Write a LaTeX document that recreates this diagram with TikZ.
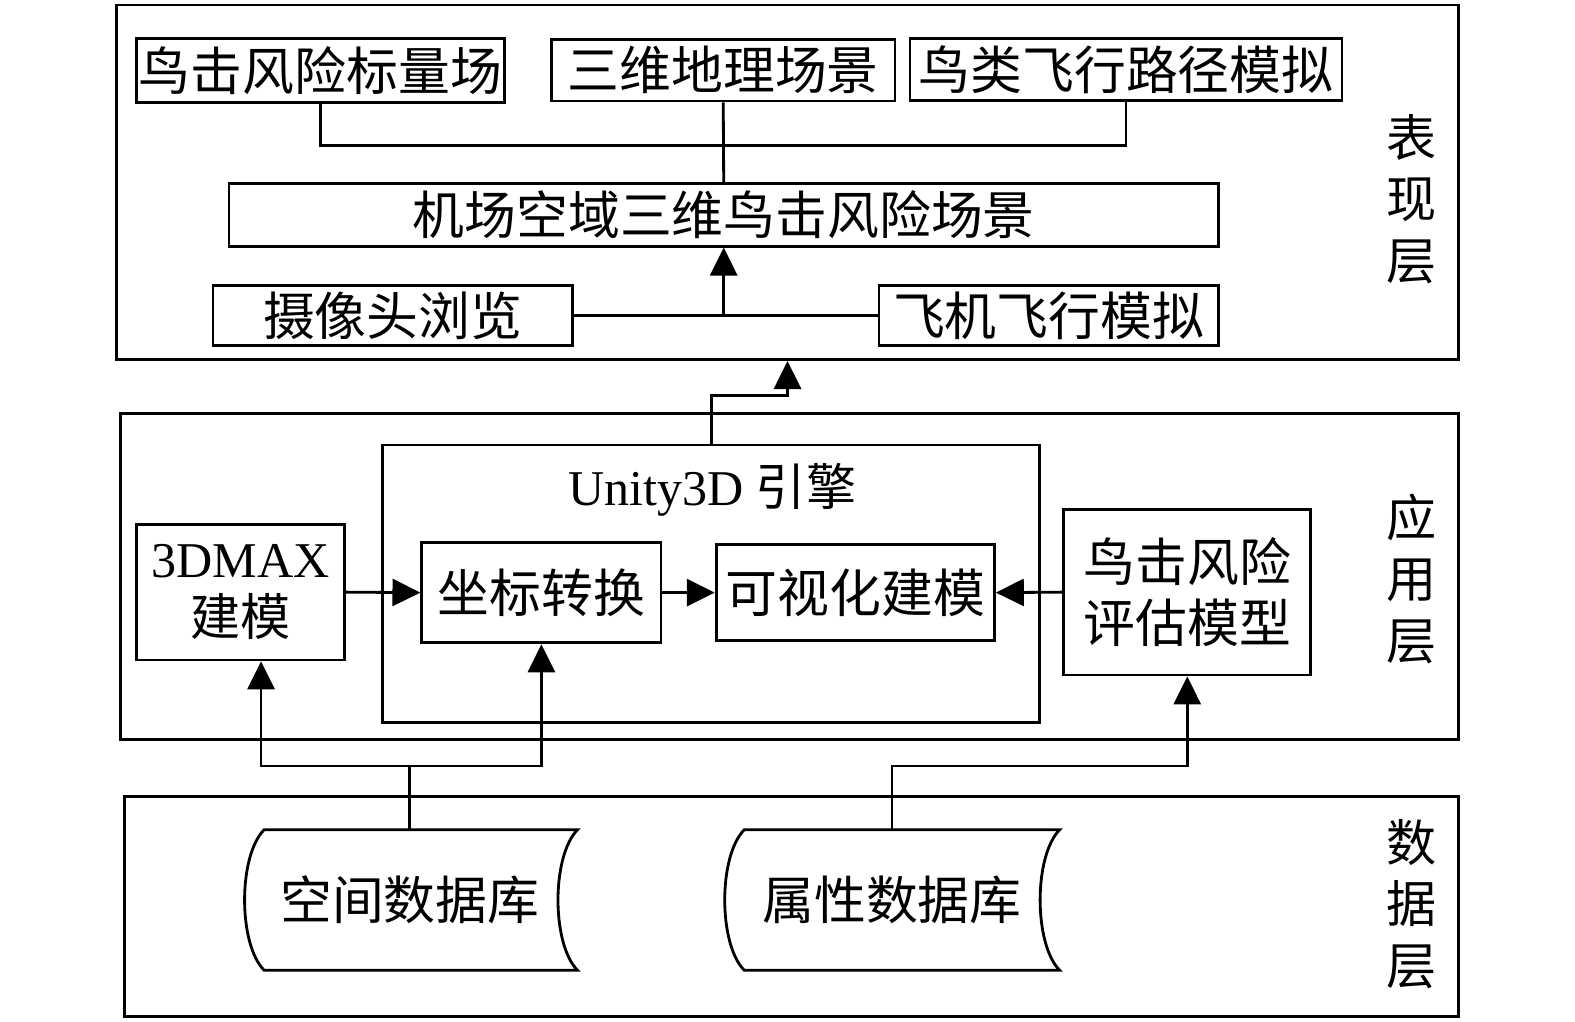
\documentclass[tikz,border=0pt]{standalone}
\usepackage{fontspec}
\setmainfont{Liberation Serif}
\newfontfamily\cjk{Noto Sans CJK SC}
\usetikzlibrary{arrows.meta}

\tikzset{
  box/.style={shape=rectangle,draw=black,align=center,line width=1.6pt,inner sep=0pt},
  layer/.style={shape=rectangle,draw=black,line width=1.6pt,inner sep=0pt},
  arrow/.style={-{Triangle[length=5.6mm,width=5.4mm]},draw=black,line width=1.6pt},
  link/.style={draw=black,line width=1.6pt},
  cn/.style={font=\fontsize{29.5}{35}\cjk},
}

\begin{document}
\begin{tikzpicture}[x=0.2009mm,y=-0.2009mm,font=\fontsize{28.5}{35}\selectfont]
\useasboundingbox (0,0) rectangle (1568,1017);
% layers
\node[layer,minimum width=1336*0.2009mm,minimum height=353*0.2009mm] (L1) at (784,181.5) {};
\node[layer,minimum width=1332*0.2009mm,minimum height=324*0.2009mm] (L2) at (786,574) {};
\node[layer,minimum width=1328*0.2009mm,minimum height=219*0.2009mm] (L3) at (788,902.5) {};
\node[align=center,font=\fontsize{28.5}{35}\cjk] (T1) at (1405,198) {表\\现\\层};
\node[align=center,font=\fontsize{28.5}{35}\cjk] (T2) at (1405,576) {应\\用\\层};
\node[align=center,font=\fontsize{28.5}{35}\cjk] (T3) at (1405,900) {数\\据\\层};

% presentation layer
\node[box,cn,minimum width=366*0.2009mm,minimum height=64*0.2009mm] (0) at (319,70) {鸟击风险标量场};
\node[box,cn,minimum width=342*0.2009mm,minimum height=61*0.2009mm] (1) at (720,70) {三维地理场景};
\node[box,cn,minimum width=430*0.2009mm,minimum height=62*0.2009mm] (2) at (1121,69) {鸟类飞行路径模拟};
\node[box,cn,minimum width=985*0.2009mm,minimum height=62*0.2009mm] (3) at (720.5,214) {机场空域三维鸟击风险场景};
\node[box,cn,minimum width=358*0.2009mm,minimum height=60*0.2009mm] (4) at (391,314) {摄像头浏览};
\node[box,cn,minimum width=338*0.2009mm,minimum height=60*0.2009mm] (5) at (1044,314) {飞机飞行模拟};

\coordinate (jt) at (720,145);
\path[link] (0.south) |- (jt) -| (2.south);
\path[link] (1.south) -- (3.north);
\path[link] (4.east) -- (5.west);
\path[arrow] (4.east -| 3.south) -- (3.south);

% application layer
\node[box,minimum width=654*0.2009mm,minimum height=276*0.2009mm] (6) at (708,581) {};
\node (6t) at (709,488) {Unity3D {\cjk 引擎}};
\node[box,minimum width=207*0.2009mm,minimum height=135*0.2009mm] (7) at (239.5,589.5) {3DMAX\\[-2pt]{\cjk 建模}};
\node[box,cn,minimum width=238*0.2009mm,minimum height=100*0.2009mm] (8) at (539,590) {坐标转换};
\node[box,cn,minimum width=277*0.2009mm,minimum height=96*0.2009mm] (9) at (851.5,590) {可视化建模};
\node[box,cn,minimum width=246*0.2009mm,minimum height=165*0.2009mm] (10) at (1182,589.5) {鸟击风险\\评估模型};

\path[arrow] (7.east) -- (8.west);
\path[arrow] (8.east) -- (9.west);
\path[arrow] (10.west) -- (9.east);
\path[arrow] (6.north) -- ++(0,-48) -| (L1.south);

% data layer
\node[cn,minimum height=140*0.2009mm,inner sep=0pt] (11) at (408,896) {空间数据库};
\node[cn,minimum height=140*0.2009mm,inner sep=0pt] (12) at (888,896) {属性数据库};
\draw[line width=1.6pt] (263,826) -- (575,826) .. controls (549,852) and (549,940) .. (575,966) -- (263,966) .. controls (237,940) and (237,852) .. cycle;
\draw[line width=1.6pt] (741,826) -- (1055,826) .. controls (1029,852) and (1029,940) .. (1055,966) -- (741,966) .. controls (715,940) and (715,852) .. cycle;

\path[link] (11.north) -- ++(0,-63) coordinate (j1);
\path[arrow] (j1) -| ([xshift=4.1mm]7.south);
\path[arrow] (j1) -| (8.south);
\path[arrow] (12.north) -- ++(0,-63) -| (10.south);
\end{tikzpicture}
\end{document}
